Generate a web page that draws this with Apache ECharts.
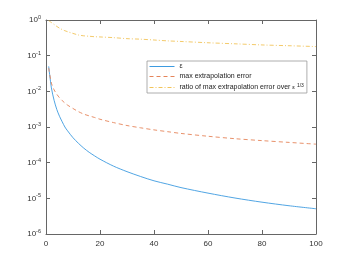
<!DOCTYPE html>
<html><head><meta charset="utf-8">
<script src="https://cdn.jsdelivr.net/npm/echarts@6/dist/echarts.min.js"></script>
<style>html,body{margin:0;padding:0;background:#fff}#c{width:350px;height:263px}</style>
</head><body><div id="c"></div>
<script>
const xs = [1,2,3,4,5,6,7,8,10,12,14,16,18,20,25,30,35,40,45,50,60,70,80,90,100];
const epsVals = [0.05,0.0125,0.0056,0.0031,0.002,0.0014,0.001,7.8e-4,5e-4,3.5e-4,2.55e-4,1.95e-4,1.55e-4,1.25e-4,8e-5,5.6e-5,4.1e-5,3.1e-5,2.5e-5,2e-5,1.4e-5,1.02e-5,7.8e-6,6.2e-6,5.1e-6];
const errVals = [0.045,0.017,0.011,0.0083,0.0066,0.0055,0.0047,0.0041,0.0033,0.0027,0.0023,0.00205,0.00185,0.00165,0.00133,0.0011,9.5e-4,8.3e-4,7.4e-4,6.6e-4,5.5e-4,4.7e-4,4.15e-4,3.7e-4,3.3e-4];
const ratioVals = [0.96,0.85,0.75,0.66,0.59,0.54,0.5,0.47,0.42,0.38,0.36,0.35,0.34,0.335,0.32,0.3,0.29,0.275,0.26,0.25,0.23,0.215,0.2,0.19,0.18];
const names = ['ε','max extrapolation error','ratio of max extrapolation error over ε^1/3'];
const xTicks = [0,20,40,60,80,100];

const pair = v => xs.map((x,i)=>[x,v[i]]);
const axisCol = '#666666';
const chart = echarts.init(document.getElementById('c'), null, {renderer:'canvas'});
const supFmt = v => { const e = Math.round(Math.log10(v)); return '{b|10}{s|' + e + '}'; };
const lineAx = () => ({show:true,onZero:false,lineStyle:{color:axisCol,width:1}});
const tickAx = () => ({show:true,inside:true,length:4,lineStyle:{color:axisCol,width:1}});
chart.setOption({
  animation:false,
  backgroundColor:'#fff',
  grid:{left:46,right:34,top:20,bottom:29},
  legend:{
    orient:'vertical', left:147, top:61,
    itemWidth:25, itemHeight:7, itemGap:3,
    padding:[2,3,2,2],
    borderColor:'#9a9a9a', borderWidth:0.8, backgroundColor:'#fff',
    itemStyle:{opacity:0},
    lineStyle:{width:1},
    textStyle:{fontSize:7, color:'#222', fontFamily:'Liberation Sans, Arial',
      rich:{s:{fontSize:5, verticalAlign:'top', padding:[0,0,4,0], color:'#222'}, e:{fontSize:6, color:'#222'}}},
    formatter: n => n === names[2] ? 'ratio of max extrapolation error over {e|ε} {s|1/3}' : n,
    data: names
  },
  xAxis:[{
    type:'value', min:0, max:100, interval:20, position:'bottom',
    axisLine:lineAx(), axisTick:tickAx(),
    axisLabel:{fontSize:8,color:'#333',margin:6,fontFamily:'Liberation Sans, Arial',
      formatter: v => xTicks.includes(v) ? String(v) : ''},
    splitLine:{show:false}
  },{
    type:'value', min:0, max:100, interval:20, position:'top',
    axisLine:lineAx(), axisTick:tickAx(),
    axisLabel:{show:false}, splitLine:{show:false}
  }],
  yAxis:[{
    type:'log', logBase:10, min:1e-6, max:1, position:'left',
    axisLine:lineAx(), axisTick:tickAx(),
    axisLabel:{fontSize:8,color:'#333',margin:5,fontFamily:'Liberation Sans, Arial',
      formatter: supFmt,
      rich:{b:{fontSize:8,color:'#333'},s:{fontSize:5.5,color:'#333',verticalAlign:'top',padding:[0,0,5,0]}}},
    splitLine:{show:false}
  },{
    type:'log', logBase:10, min:1e-6, max:1, position:'right',
    axisLine:lineAx(), axisTick:tickAx(),
    axisLabel:{show:false}, splitLine:{show:false}
  }],
  series:[
    {name:names[0],type:'line',data:pair(epsVals),symbol:'none',smooth:0.3,
     lineStyle:{color:'#3d9be0',width:0.9},itemStyle:{color:'#3d9be0'}},
    {name:names[1],type:'line',data:pair(errVals),symbol:'none',smooth:0.3,
     lineStyle:{color:'#e5845a',width:0.9,type:[4,3]},itemStyle:{color:'#e5845a'}},
    {name:names[2],type:'line',data:pair(ratioVals),symbol:'none',smooth:0.3,
     lineStyle:{color:'#f2c45a',width:0.9,type:[4,2,1,2]},itemStyle:{color:'#f2c45a'}},
    {name:'_frame',type:'line',xAxisIndex:1,yAxisIndex:1,data:pair(ratioVals),symbol:'none',silent:true,
     lineStyle:{opacity:0},itemStyle:{opacity:0}}
  ]
});
</script></body></html>
